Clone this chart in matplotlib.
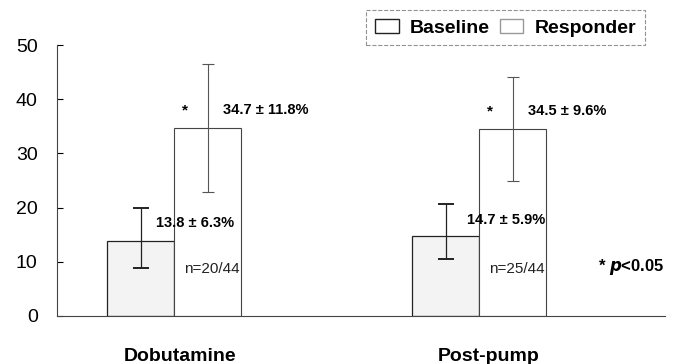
import matplotlib.pyplot as plt
from matplotlib.patches import Patch

plt.rcParams['font.family'] = ['Liberation Sans', 'DejaVu Sans']

# data
groups = ["Dobutamine", "Post-pump"]
baseline = [13.8, 14.7]
baseline_lo = [4.9, 4.2]
baseline_hi = [6.2, 5.9]
responder = [34.7, 34.5]
responder_err = [11.8, 9.6]
base_labels = ["13.8 \u00b1 6.3%", "14.7 \u00b1 5.9%"]
resp_labels = ["34.7 \u00b1 11.8%", "34.5 \u00b1 9.6%"]
n_labels = ["n=20/44", "n=25/44"]

fig = plt.figure(figsize=(6.8, 3.64), dpi=100)
ax = fig.add_axes([0.084, 0.132, 0.894, 0.744])

x = [0, 1]
w = 0.22
xb = [i - w / 2 for i in x]
xr = [i + w / 2 for i in x]

ax.bar(xb, baseline, w, color="#f3f3f3", edgecolor="#222222", linewidth=0.9,
       yerr=[baseline_lo, baseline_hi], capsize=6,
       error_kw=dict(ecolor="#222222", elinewidth=0.9, capthick=1.4))
ax.bar(xr, responder, w, color="white", edgecolor="#444444", linewidth=0.8,
       yerr=responder_err, capsize=4,
       error_kw=dict(ecolor="#555555", elinewidth=0.8, capthick=0.8))

# annotations
for i in range(2):
    ax.text(x[i] + 0.035, responder[i] + 3.3, "*", fontsize=11, fontweight="bold",
            ha="center", va="center")
    ax.text(x[i] + 0.16, responder[i] + 3.3, resp_labels[i], fontsize=10.5,
            fontweight="bold", ha="left", va="center")
    ax.text(x[i] - 0.06 + 0.02 * i, baseline[i] + 3.4 - 0.3 * i, base_labels[i],
            fontsize=10.5, fontweight="bold", ha="left", va="center")
    ax.text(x[i] + 0.032, 8.6, n_labels[i], fontsize=11, ha="left", va="center",
            color="#222222")

ax.text(1.39, 9.0, "* $\\boldsymbol{p}$<0.05", fontsize=12, fontweight="bold",
        ha="left", va="center")

ax.set_xlim(-0.384, 1.61)
ax.set_ylim(0, 50)
ax.set_yticks([0, 10, 20, 30, 40, 50])
ax.tick_params(axis="y", direction="in", length=4, labelsize=14, pad=14)
ax.set_xticks([0.02, 1.03])
ax.set_xticklabels(groups, fontsize=14, fontweight="bold")
ax.tick_params(axis="x", length=0, pad=23)

ax.spines["top"].set_visible(False)
ax.spines["right"].set_visible(False)
ax.spines["left"].set_color("#444444")
ax.spines["bottom"].set_color("#444444")
ax.spines["left"].set_linewidth(0.8)
ax.spines["bottom"].set_linewidth(0.8)

handles = [Patch(facecolor="white", edgecolor="#222222", label="Baseline"),
           Patch(facecolor="white", edgecolor="#999999", label="Responder")]
leg = fig.legend(handles=handles, ncol=2, loc="upper right",
                 bbox_to_anchor=(0.949, 0.972), frameon=True, fancybox=False,
                 prop=dict(size=14, weight="bold"), handlelength=1.2,
                 handleheight=0.7, columnspacing=0.5, handletextpad=0.6,
                 borderpad=0.45, borderaxespad=0)
leg.get_frame().set_edgecolor("#777777")
leg.get_frame().set_linestyle("--")
leg.get_frame().set_linewidth(0.8)

fig.savefig("out.png", dpi=100)
